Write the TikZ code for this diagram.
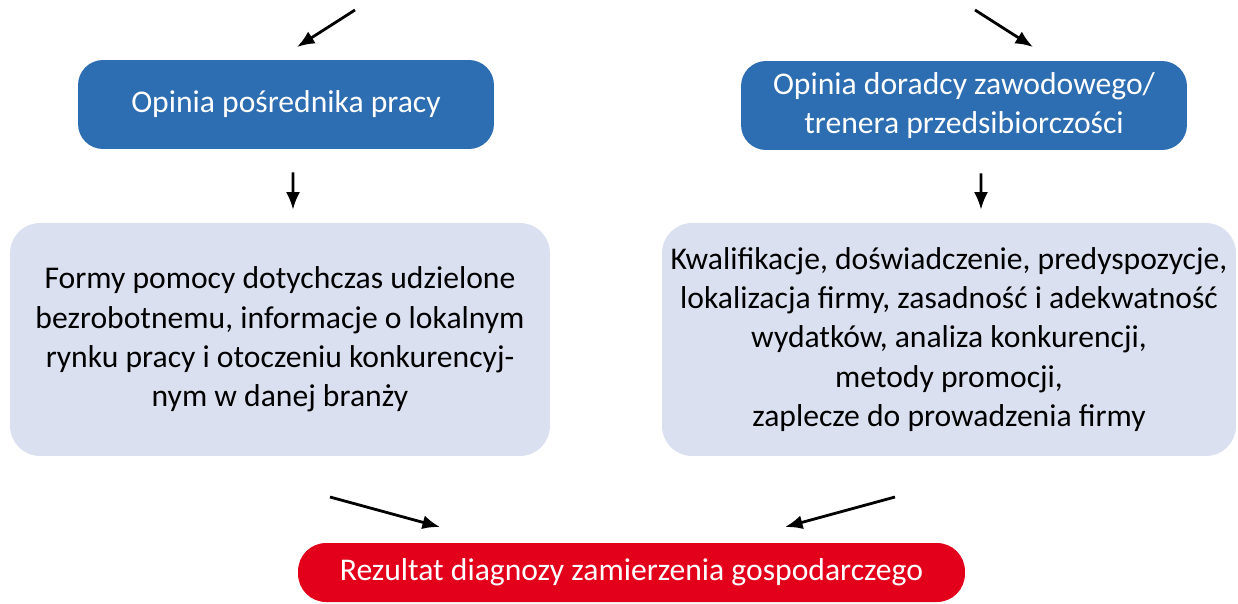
\documentclass[tikz,border=0pt]{standalone}
\usepackage{fontspec}
\setmainfont{Carlito}
\usepackage{tikz}
\usetikzlibrary{arrows.meta,positioning}
\definecolor{opblue}{HTML}{2D6DB1}
\definecolor{opgray}{HTML}{DBE0F0}
\definecolor{opred}{HTML}{E2001A}

\begin{document}
\begin{tikzpicture}[x=0.02cm,y=-0.02cm,
  opinion/.style={fill=opblue,text=white,rounded corners=0.5cm,align=center,font=\fontsize{18}{22}\selectfont},
  details/.style={fill=opgray,text=black,rounded corners=0.6cm,align=center,minimum height=4.66cm,font=\fontsize{18}{22.4}\selectfont},
  result/.style={fill=opred,text=white,rounded corners=0.56cm,align=center,minimum height=1.18cm,font=\fontsize{18}{22}\selectfont},
  arr/.style={-{Latex[length=10pt,width=8pt]},line width=1.6pt}]
\useasboundingbox (0,0) rectangle (1238,603);
\node [opinion,minimum width=8.32cm,minimum height=1.78cm] (posr) at (286,104.5) {Opinia pośrednika pracy};
\node [opinion,minimum width=8.92cm,minimum height=1.78cm] (dorad) at (964,105.5) {Opinia doradcy zawodowego/\\trenera przedsibiorczości};
\node [details,minimum width=10.8cm] (formy) at (280,339.5) {Formy pomocy dotychczas udzielone\\bezrobotnemu, informacje o lokalnym\\rynku pracy i otoczeniu konkurencyj-\\nym w danej branży};
\node [details,minimum width=11.48cm] (kwal) at (949,339.5) {Kwalifikacje, doświadczenie, predyspozycje,\\lokalizacja firmy, zasadność i adekwatność\\wydatków, analiza konkurencji,\\metody promocji,\\zaplecze do prowadzenia firmy};
\node [result,minimum width=13.34cm] (rez) at (631.5,572.5) {Rezultat diagnozy zamierzenia gospodarczego};
\coordinate (inL) at (355,10);
\coordinate (inR) at (975,10);
\coordinate (endL) at (297,47);
\coordinate (endR) at (1033,47);
\coordinate (outL) at (330,497);
\coordinate (outR) at (895,497);
\coordinate (toL) at (440,527);
\coordinate (toR) at (785,527);
\draw [arr] (inL) -- (endL);
\draw [arr] (inR) -- (endR);
\draw [arr,shorten <=0.46cm,shorten >=0.26cm] ([xshift=0.14cm]posr.south) -- ([xshift=0.26cm]formy.north);
\draw [arr,shorten <=0.46cm,shorten >=0.26cm] ([xshift=0.34cm]dorad.south) -- ([xshift=0.64cm]kwal.north);
\draw [arr] (outL) -- (toL);
\draw [arr] (outR) -- (toR);
\end{tikzpicture}
\end{document}
